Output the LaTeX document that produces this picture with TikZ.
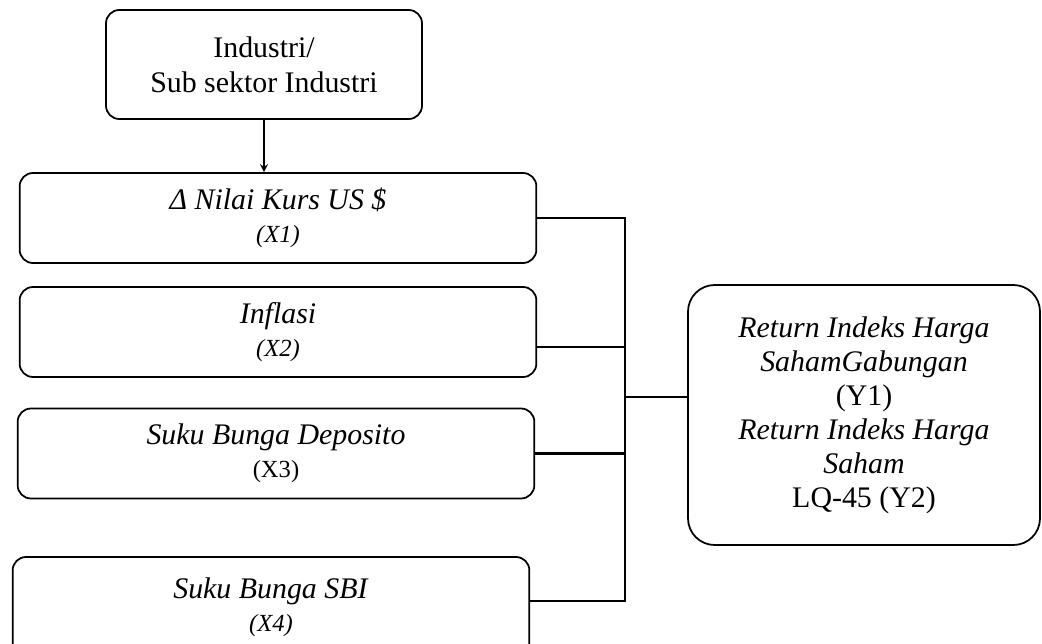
\documentclass[tikz,border=0pt]{standalone}
\usepackage{fontspec}
\setmainfont{Liberation Serif}
\usetikzlibrary{arrows,positioning}
\tikzstyle{arrow} = [line width=2pt,->,>=stealth]
\tikzstyle{link} = [line width=2.5pt]
\tikzstyle{varbox} = [rectangle, rounded corners=0.4cm, minimum width=15.5cm, minimum height=2.7cm, text centered, align=center, draw, line width=1.5pt, font=\fontsize{25.5}{28}\selectfont]
\tikzstyle{resultbox} = [varbox, rounded corners=0.8cm, minimum width=10.56cm, minimum height=7.8cm, font=\fontsize{25.5}{29}\selectfont]
\newcommand{\subvar}[1]{{\fontsize{21}{28}\selectfont #1}}

\begin{document}
\begin{tikzpicture}[x=0.03cm, y=-0.03cm]
    \useasboundingbox (0,0) rectangle (1042,643);

    % Industry box
    \node[varbox, minimum width=9.48cm, minimum height=3.27cm, font=\fontsize{25.5}{30}\selectfont] (industri) at (264,64.5) {Industri/\\Sub sektor Industri};

    % Independent variables
    \node[varbox] (kurs) at (278,218) {\textit{Δ Nilai Kurs US \$}\\\subvar{\textit{(X1)}}};
    \node[varbox] (inflasi) at (278,332) {\textit{Inflasi}\\\subvar{\textit{(X2)}}};
    \node[varbox] (deposito) at (276,453.5) {\textit{Suku Bunga Deposito}\\\subvar{(X3)}};
    \node[varbox, minimum height=3cm] (sbi) at (271,607) {\textit{Suku Bunga SBI}\\\subvar{\textit{(X4)}}};

    % Dependent variables
    \node[resultbox] (return) at (864,415) {\textit{Return Indeks Harga}\\\textit{SahamGabungan}\\(Y1)\\\textit{Return Indeks Harga}\\\textit{Saham}\\LQ-45 (Y2)};

    % Connections
    \coordinate (bustop) at (625,218);
    \coordinate (busbot) at (625,601);
    \coordinate (join) at (625,397);
    \draw[arrow] (industri.south) -- (industri.south |- kurs.north);
    \draw[link] (kurs.east) -- (bustop) -- (busbot) -- (sbi.east |- busbot);
    \draw[link] ([yshift=-0.45cm]inflasi.east) -- ([yshift=-0.45cm]inflasi.east -| bustop);
    \draw[link] (deposito.east) -- (deposito.east -| bustop);
    \draw[link] (join) -- (join -| return.west);
\end{tikzpicture}
\end{document}
